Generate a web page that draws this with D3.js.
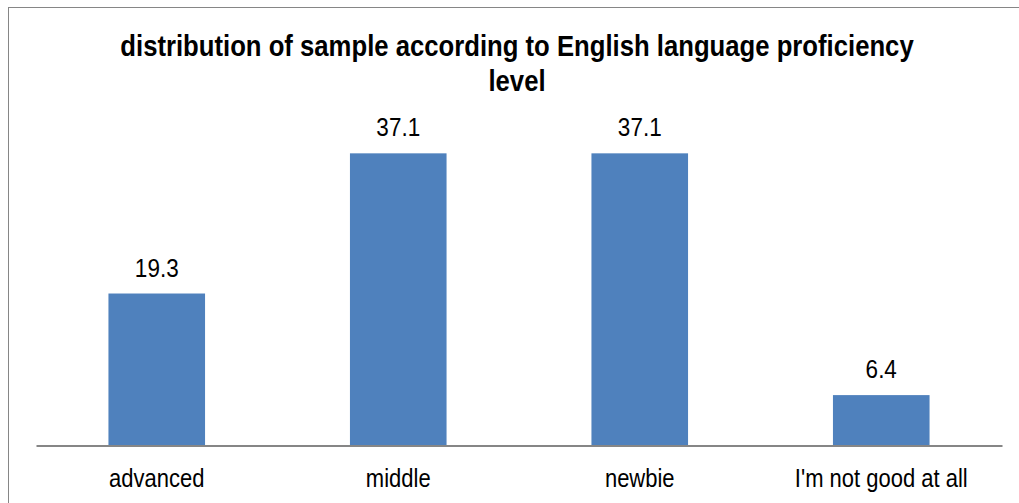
<!DOCTYPE html>
<html>
<head>
<meta charset="utf-8">
<script src="https://cdn.jsdelivr.net/npm/d3@7"></script>
<style>
  body { margin: 0; background: #fff; }
  svg { display: block; font-family: "Liberation Sans", Arial, sans-serif; }
</style>
</head>
<body>
<div id="chart"></div>
<script>
var categories = ["advanced", "middle", "newbie", "I'm not good at all"];
var values = [19.3, 37.1, 37.1, 6.4];
var titleLines = ["distribution of sample according to English language proficiency", "level"];

var width = 1019,
  height = 503,
  plotLeft = 36,
  plotRight = 1002,
  baseY = 445.5,
  stretch = 1.15; // the source text is narrow and tall

var svg = d3.select("#chart").append("svg")
  .attr("width", width)
  .attr("height", height);

// chart frame
svg.append("rect")
  .attr("x", 8.5)
  .attr("y", 7.5)
  .attr("width", 1030)
  .attr("height", 520)
  .attr("fill", "#fff")
  .attr("stroke", "#868686")
  .attr("stroke-width", 1);

var x = d3.scaleBand()
  .domain(categories)
  .range([plotLeft, plotRight])
  .paddingInner(0.6)
  .paddingOuter(0.3);

var y = d3.scaleLinear()
  .domain([0, 40])
  .range([baseY, baseY - 315]);

svg.selectAll("rect.bar")
  .data(values)
  .enter().append("rect")
  .attr("class", "bar")
  .attr("x", function(d, i) { return x(categories[i]); })
  .attr("y", function(d) { return y(d); })
  .attr("width", x.bandwidth())
  .attr("height", function(d) { return baseY - y(d); })
  .attr("fill", "#4F81BD");

svg.selectAll("text.val")
  .data(values)
  .enter().append("text")
  .attr("class", "val")
  .attr("transform", function(d, i) {
    return "translate(" + (x(categories[i]) + x.bandwidth() / 2) + "," + (y(d) - 17) + ") scale(1," + stretch + ")";
  })
  .attr("text-anchor", "middle")
  .attr("font-size", 22.5)
  .attr("fill", "#000")
  .text(function(d) { return d.toFixed(1); });

// category axis
var axis = svg.append("g")
  .attr("transform", "translate(0," + baseY + ")")
  .call(d3.axisBottom(x).tickSize(0).tickPadding(0));
axis.select(".domain").attr("stroke", "#868686").attr("stroke-width", 2);
axis.selectAll("text")
  .attr("dy", null)
  .attr("y", null)
  .attr("transform", "translate(0,41.5) scale(1," + stretch + ")")
  .attr("font-size", 22)
  .attr("font-family", "Liberation Sans, Arial, sans-serif")
  .attr("fill", "#000");

svg.selectAll("text.title")
  .data(titleLines)
  .enter().append("text")
  .attr("class", "title")
  .attr("transform", function(d, i) {
    return "translate(517," + (56 + i * 35) + ") scale(1,1.12)";
  })
  .attr("text-anchor", "middle")
  .attr("font-size", 25.7)
  .attr("font-weight", "bold")
  .text(function(d) { return d; });
</script>
</body>
</html>
